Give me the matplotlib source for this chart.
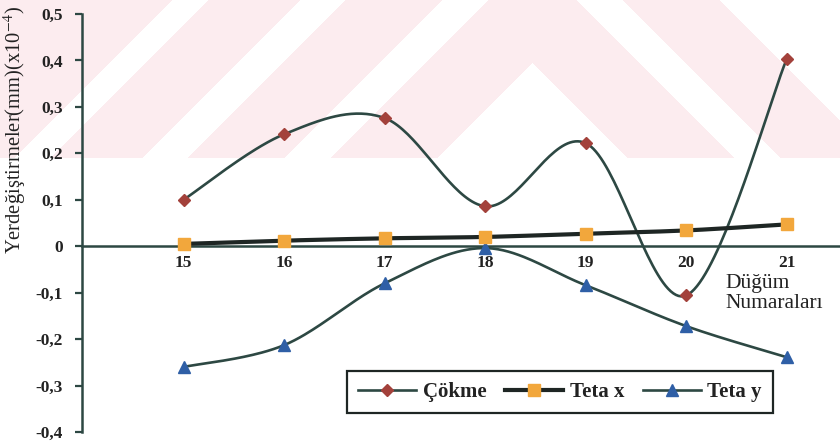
import matplotlib
matplotlib.use("Agg")
import matplotlib.pyplot as plt
from matplotlib.lines import Line2D
import numpy as np

plt.rcParams['font.family'] = ['Liberation Serif', 'DejaVu Serif']
plt.rcParams['mathtext.fontset'] = 'stix'

# data
nodes = [15, 16, 17, 18, 19, 20, 21]
cokme = [0.100, 0.241, 0.276, 0.086, 0.222, -0.106, 0.403]
teta_x = [0.005, 0.012, 0.017, 0.020, 0.027, 0.034, 0.047]
teta_y = [-0.260, -0.213, -0.080, -0.004, -0.084, -0.172, -0.239]
yticks = [-0.4, -0.3, -0.2, -0.1, 0, 0.1, 0.2, 0.3, 0.4, 0.5]
ytick_labels = ['-0,4', '-0,3', '-0,2', '-0,1', '0', '0,1', '0,2', '0,3', '0,4', '0,5']

line_col = '#2d4843'
red = '#a3413b'
orange = '#f2a73c'
blue = '#2f5fa6'


def smooth(x, y, n=40):
    # excel-like smoothing: bezier segments with catmull-rom control points
    px = np.r_[x[0], x, x[-1]].astype(float)
    py = np.r_[y[0], y, y[-1]].astype(float)
    xs, ys = [], []
    t = np.linspace(0, 1, n)
    for i in range(len(x) - 1):
        x0, y0 = px[i + 1], py[i + 1]
        x3, y3 = px[i + 2], py[i + 2]
        x1 = x0 + (px[i + 2] - px[i]) / 6
        y1 = y0 + (py[i + 2] - py[i]) / 6
        x2 = x3 - (px[i + 3] - px[i + 1]) / 6
        y2 = y3 - (py[i + 3] - py[i + 1]) / 6
        b0, b1, b2, b3 = (1 - t) ** 3, 3 * t * (1 - t) ** 2, 3 * t ** 2 * (1 - t), t ** 3
        xs.append(b0 * x0 + b1 * x1 + b2 * x2 + b3 * x3)
        ys.append(b0 * y0 + b1 * y1 + b2 * y2 + b3 * y3)
    return np.concatenate(xs), np.concatenate(ys)


fig = plt.figure(figsize=(8.4, 4.46), dpi=100)
fig.patch.set_facecolor('white')

# faint pink watermark of the scanned page
bg = fig.add_axes([0, 0, 1, 1], zorder=0)
yy, xx = np.mgrid[0:446, 0:840]
v = yy - np.abs(xx - 532)
left = xx < 532
pink = (v > -45) & (v < 63)
pink |= (v > -188) & (v < -90)
pink |= left & (v > -325) & (v < -232)
pink |= left & (v < -360)
pink &= yy < 158
img = np.ones((446, 840, 4))
img[..., 3] = 0
img[pink] = [252 / 255, 236 / 255, 239 / 255, 1]
bg.imshow(img, extent=(0, 840, 446, 0), interpolation='nearest')
bg.set_xlim(0, 840)
bg.set_ylim(446, 0)
bg.axis('off')

ax = fig.add_axes([82 / 840, 14 / 446, 758 / 840, 418 / 446], zorder=1)
ax.patch.set_alpha(0)

sx, sy = smooth(nodes, cokme)
ax.plot(sx, sy, color=line_col, lw=1.9, zorder=3)
ax.plot(nodes, cokme, ls='none', marker='D', ms=6.5, color=red, zorder=5)

sx, sy = smooth(nodes, teta_x)
ax.plot(sx, sy, color='#1e2624', lw=3.0, zorder=4)
ax.plot(nodes, teta_x, ls='none', marker='s', ms=8, color=orange, zorder=6)

sx, sy = smooth(nodes, teta_y)
ax.plot(sx, sy, color=line_col, lw=1.9, zorder=3)
ax.plot(nodes, teta_y, ls='none', marker='^', ms=9, color=blue, zorder=5)

ax.set_xlim(13.99, 21.53)
ax.set_ylim(-0.4, 0.5)

ax.spines['top'].set_visible(False)
ax.spines['right'].set_visible(False)
ax.spines['bottom'].set_position(('data', 0))
ax.spines['left'].set_color(line_col)
ax.spines['left'].set_linewidth(1.8)
ax.spines['bottom'].set_color(line_col)
ax.spines['bottom'].set_linewidth(1.8)

ax.set_yticks(yticks)
ax.set_yticklabels(ytick_labels, fontsize=12.5, fontweight='bold', color='#222222')
ax.tick_params(axis='y', direction='out', length=5, width=1.6, color=line_col, pad=9)
ax.set_xticks(nodes)
ax.set_xticklabels([str(n) for n in nodes], fontsize=12.5, fontweight='bold', color='#222222')
ax.tick_params(axis='x', length=0, pad=6)

fig.text(15 / 840, 1 - 130 / 446, r'Yerdeğiştirmeler(mm)(x10$^{-4}$)', rotation=90,
         ha='center', va='center', fontsize=14.8, color='#222222')
fig.text(725 / 840, 1 - 274 / 446, 'Düğüm\nNumaraları', ha='left', va='top',
         fontsize=15.5, color='#222222', linespacing=1.05)

handles = [
    Line2D([], [], color=line_col, lw=1.9, marker='D', ms=6.5, mfc=red, mec=red),
    Line2D([], [], color='#1e2624', lw=3.0, marker='s', ms=8, mfc=orange, mec=orange),
    Line2D([], [], color=line_col, lw=1.9, marker='^', ms=9, mfc=blue, mec=blue),
]
leg = ax.legend(handles, ['Çökme', 'Teta x', 'Teta y'], loc='center',
                bbox_to_anchor=((560 - 82) / 758, (432 - 392) / 418), ncol=3,
                fancybox=False, framealpha=1, edgecolor='#1e2624',
                prop={'size': 15, 'weight': 'bold'}, handlelength=2.8,
                columnspacing=0.9, handletextpad=0.3, borderpad=0.55)
leg.get_frame().set_linewidth(1.6)
for txt in leg.get_texts():
    txt.set_color('#222222')

fig.savefig('out.png', dpi=100)
